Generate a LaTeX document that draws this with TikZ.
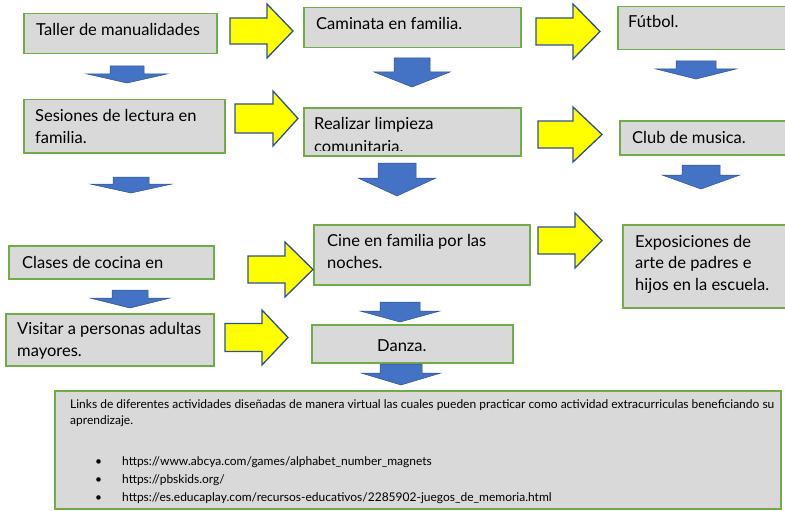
\documentclass[tikz,border=0pt]{standalone}
\usepackage{fontspec}
\setmainfont{Lato}
\usepackage{xcolor}

\definecolor{boxgreen}{HTML}{70AD47}
\definecolor{boxgray}{HTML}{D9D9D9}
\definecolor{arrowline}{HTML}{2F528F}
\definecolor{arrowblue}{HTML}{4472C4}
\definecolor{arrowyellow}{HTML}{FFFF00}

\tikzset{
  box/.style={draw=boxgreen, line width=1.5pt, fill=boxgray, anchor=north west, inner sep=0pt},
  txt/.style={anchor=base west, align=left, inner sep=0pt, font=\fontsize{16.5}{21.5}\selectfont},
  linktxt/.style={anchor=base west, align=left, inner sep=0pt, font=\fontsize{12}{16}\selectfont},
  yarrow/.style={draw=arrowline, line width=1.3pt, fill=arrowyellow, line join=miter},
  barrow/.style={draw=arrowline, line width=0.5pt, fill=arrowblue},
}

% right block arrow: left x, head base x, tip x, mid y, shaft half, head half
\newcommand{\rightblock}[6]{%
  \draw[yarrow] (#1,{#4-#5}) -- (#2,{#4-#5}) -- (#2,{#4-#6}) -- (#3,#4)
    -- (#2,{#4+#6}) -- (#2,{#4+#5}) -- (#1,{#4+#5}) -- cycle;}
% down block arrow: centre x, shaft top, head base, tip y, shaft half, head half
\newcommand{\downblock}[6]{%
  \draw[barrow] ({#1-#5},#2) -- ({#1+#5},#2) -- ({#1+#5},#3) -- ({#1+#6},#3)
    -- (#1,#4) -- ({#1-#6},#3) -- ({#1-#5},#3) -- cycle;}

\begin{document}
\begin{tikzpicture}[x=1pt, y=-1pt]
  \useasboundingbox (0,0) rectangle (785,511);
  \clip (0,0) rectangle (785,511);

  % first row
  \node[box, minimum width=193pt, minimum height=40pt] (taller) at (23,13) {};
  \node[txt] (tallerT) at (36,36) {Taller de manualidades};
  \node[box, minimum width=217pt, minimum height=40pt] (caminata) at (303,7) {};
  \node[txt] (caminataT) at (316,30) {Caminata en familia.};
  \node[box, minimum width=180pt, minimum height=43pt] (futbol) at (617,6) {};
  \node[txt] (futbolT) at (628,28) {Fútbol.};

  % second row
  \node[box, minimum width=201pt, minimum height=53pt] (lectura) at (23,99) {};
  \node[txt] (lecturaT) at (35,143) {Sesiones de lectura en\\familia.};
  \node[box, minimum width=217pt, minimum height=48pt] (limpieza) at (303,107) {};
  \begin{scope}
    \clip (303,107) rectangle (520,150.5);
    \node[txt, font=\fontsize{16.5}{23}\selectfont] (limpiezaT) at (314,152) {Realizar limpieza\\comunitaria.};
  \end{scope}
  \node[box, minimum width=180pt, minimum height=34pt] (club) at (619,120) {};
  \node[txt] (clubT) at (632,143) {Club de musica.};

  % third row
  \node[box, minimum width=205pt, minimum height=33pt] (cocina) at (8,245) {};
  \node[txt] (cocinaT) at (22,268) {Clases de cocina en};
  \node[box, minimum width=216pt, minimum height=60pt] (cine) at (313,224) {};
  \node[txt] (cineT) at (327,268) {Cine en familia por las\\noches.};
  \node[box, minimum width=180pt, minimum height=83pt] (expos) at (622,224) {};
  \node[txt] (exposT) at (635,290) {Exposiciones de\\arte de padres e\\hijos en la escuela.};

  % fourth row
  \node[box, minimum width=208pt, minimum height=52pt] (visitar) at (5,313) {};
  \node[txt] (visitarT) at (17,356) {Visitar a personas adultas\\mayores.};
  \node[box, minimum width=201pt, minimum height=38pt] (danza) at (311,324) {};
  \node[txt] (danzaT) at (377,351) {Danza.};

  % links
  \node[box, minimum width=726pt, minimum height=118pt] (links) at (54,390) {};
  \node[linktxt] (linksT) at (70,424) {Links de diferentes actividades diseñadas de manera virtual las cuales pueden practicar como actividad extracurriculas beneficiando su\\aprendizaje.};
  \foreach \u [count=\i] in {https://www.abcya.com/games/alphabet\_number\_magnets,
                             https://pbskids.org/,
                             https://es.educaplay.com/recursos-educativos/2285902-juegos\_de\_memoria.html} {
    \node[linktxt] (bullet\i) at (95,{447+18*\i}) {•};
    \node[linktxt] (url\i) at (122,{447+18*\i}) {\u};
  }

  % yellow arrows
  \rightblock{230}{267}{293}{31}{13}{27}
  \rightblock{536}{573}{600}{31.5}{13.5}{27.5}
  \rightblock{235}{273}{298}{118.5}{14.5}{27.5}
  \rightblock{538}{573}{602}{134.5}{13.5}{27.5}
  \rightblock{248}{285}{313}{269.5}{13.5}{27.5}
  \rightblock{538}{575}{602}{240.5}{13.5}{27.5}
  \rightblock{225}{262}{288}{337.5}{14}{27.5}

  % blue arrows
  \downblock{127}{66}{74}{83}{17}{40}
  \downblock{131}{177}{184}{193}{18}{41}
  \downblock{412}{58}{72}{87}{18}{38}
  \downblock{696}{61}{69}{79}{20}{40}
  \downblock{397}{163}{178}{196}{19}{39}
  \downblock{701}{165}{175}{189}{19}{39}
  \downblock{130}{290}{298}{308}{18}{40}
  \downblock{400}{302}{311}{322}{20}{40}
  \downblock{401}{364}{373}{385}{21}{40}
\end{tikzpicture}
\end{document}
